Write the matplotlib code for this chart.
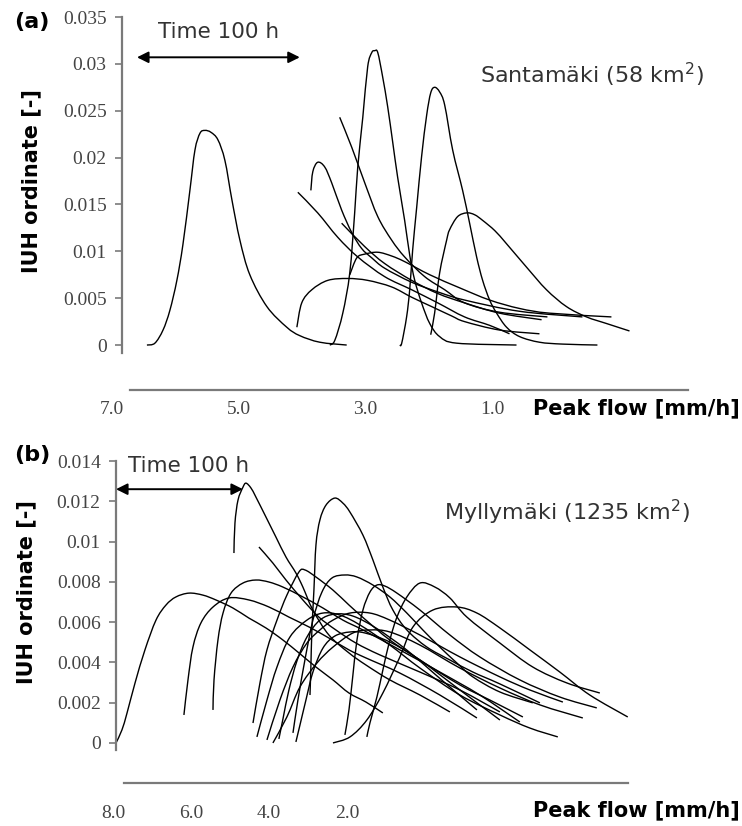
import matplotlib
matplotlib.use("Agg")
import matplotlib.pyplot as plt
from matplotlib.path import Path
from matplotlib.patches import PathPatch

# ---------------- Santamäki (58 km2): IUH curves, time [h] from the left axis ----------------
a1_hours = [15.3, 20.2, 25.2, 29.4, 33.7, 37.4, 41.7, 44.8, 47.9, 50.9, 54.6, 58.9, 63.2, 67.5, 72.4, 78.5, 89.0, 101.2, 109.2, 121.5, 138.0]
a1_iuh = [0, 0.0002, 0.0016, 0.0037, 0.0069, 0.0107, 0.0165, 0.0208, 0.0226, 0.0229, 0.0227, 0.0219, 0.0197, 0.0155, 0.0112, 0.0075, 0.0041, 0.0019, 0.0010, 0.0003, 0.0]

a2_hours = [127.6, 130.7, 135.6, 139.9, 142.9, 144.8, 147.9, 150.9, 153.4, 155.2, 157.1, 160.1, 163.2, 166.3, 169.3, 173.6, 176.7, 179.8, 184.0, 189.0, 195.1, 205.5, 242.3]
a2_iuh = [0, 0.0005, 0.0034, 0.0077, 0.0141, 0.0190, 0.0243, 0.0297, 0.0312, 0.0314, 0.0312, 0.0286, 0.0254, 0.0216, 0.0179, 0.0133, 0.0096, 0.0069, 0.0045, 0.0023, 0.0009, 0.0002, 0]

a3_hours = [170.6, 171.8, 174.8, 176.7, 178.5, 181.0, 184.0, 187.1, 189.6, 192.0, 195.1, 198.2, 203.1, 209.2, 213.5, 217.8, 221.5, 225.8, 230.1, 236.2, 244.2, 256.4, 270.6, 292.0]
a3_iuh = [0, 0.0002, 0.0030, 0.0059, 0.0101, 0.0147, 0.0201, 0.0245, 0.0269, 0.0275, 0.0270, 0.0256, 0.0208, 0.0165, 0.0130, 0.0094, 0.0069, 0.0048, 0.0034, 0.0019, 0.0009, 0.0003, 0.0001, 0]

a4_hours = [189.6, 192.0, 195.1, 199.4, 201.2, 206.1, 211.7, 216.6, 221.5, 229.0, 236.2, 248.5, 260.7, 273.0, 285.3, 297.5, 311.7]
a4_iuh = [0.0011, 0.0034, 0.0077, 0.0112, 0.0123, 0.0137, 0.0141, 0.0139, 0.0133, 0.0122, 0.0108, 0.0083, 0.0059, 0.0041, 0.0030, 0.0023, 0.0015]

a5_hours = [116.0, 117.2, 120.2, 124.5, 128.8, 134.9, 141.1, 147.2, 153.4, 161.3, 177.9, 195.1, 210.4, 244.2, 282.8]
a5_iuh = [0.0165, 0.0185, 0.0195, 0.0190, 0.0173, 0.0144, 0.0120, 0.0103, 0.0093, 0.0082, 0.0067, 0.0056, 0.0048, 0.0036, 0.0030]

a6_hours = [108.0, 120.2, 132.5, 144.8, 161.3, 177.9, 193.9, 210.4, 225.8, 238.0]
a6_iuh = [0.0163, 0.0141, 0.0115, 0.0094, 0.0073, 0.0059, 0.0045, 0.0030, 0.0021, 0.0012]

a7_hours = [133.7, 141.1, 149.1, 157.1, 165.6, 173.6, 185.9, 198.2, 210.4, 231.9, 261.3]
a7_iuh = [0.0243, 0.0211, 0.0173, 0.0137, 0.0112, 0.0094, 0.0073, 0.0059, 0.0045, 0.0035, 0.0030]

a8_hours = [134.9, 149.1, 161.3, 177.9, 193.9, 210.4, 231.9, 257.7]
a8_iuh = [0.0130, 0.0105, 0.0087, 0.0069, 0.0055, 0.0045, 0.0034, 0.0027]

a9_hours = [107.4, 110.4, 116.6, 126.4, 138.7, 150.9, 165.6, 177.9, 190.2, 202.5, 210.4, 231.9, 256.4]
a9_iuh = [0.0019, 0.0045, 0.0059, 0.0069, 0.0071, 0.0069, 0.0062, 0.0051, 0.0041, 0.0031, 0.0025, 0.0016, 0.0012]

a10_hours = [139.9, 144.2, 149.1, 157.1, 165.6, 173.6, 189.0, 207.4, 225.8, 244.2, 262.6, 300.6]
a10_iuh = [0.0075, 0.0093, 0.0097, 0.0099, 0.0095, 0.0089, 0.0075, 0.0061, 0.0048, 0.0039, 0.0034, 0.0030]

# ---------------- Myllymäki (1235 km2) ----------------
b1_hours = [0, 4.7, 8.7, 15.0, 22.8, 31.5, 39.4, 47.2, 57.5, 68.5, 78.7, 92.1, 104.7, 118.1, 131.5, 144.1, 157.5, 170.9, 183.5, 196.9, 210.2]
b1_iuh = [0, 0.00065, 0.00149, 0.00298, 0.00462, 0.00610, 0.00685, 0.00725, 0.00744, 0.00734, 0.00710, 0.00670, 0.00620, 0.00571, 0.00511, 0.00447, 0.00377, 0.00313, 0.00248, 0.00203, 0.00149]

b2_hours = [92.9, 93.7, 96.1, 100.0, 102.4, 106.3, 110.2, 118.1, 126.0, 133.9, 141.7, 147.2, 155.1, 167.7, 183.5, 196.9, 215.7, 239.4, 263.0]
b2_iuh = [0.00943, 0.01092, 0.01206, 0.01270, 0.01290, 0.01266, 0.01221, 0.01122, 0.01022, 0.00923, 0.00844, 0.00774, 0.00660, 0.00536, 0.00447, 0.00387, 0.00313, 0.00238, 0.00154]

b3_hours = [152.8, 153.5, 154.3, 155.9, 157.5, 160.6, 165.4, 172.4, 178.7, 184.3, 194.5, 202.4, 210.2, 218.1, 229.1, 244.9, 263.0, 281.1, 302.4, 333.9]
b3_iuh = [0.00238, 0.00377, 0.00561, 0.00759, 0.00983, 0.01107, 0.01181, 0.01216, 0.01191, 0.01146, 0.01032, 0.00908, 0.00774, 0.00660, 0.00561, 0.00476, 0.00412, 0.00352, 0.00293, 0.00199]

b4_hours = [53.5, 56.7, 60.6, 66.9, 76.4, 89.0, 104.7, 120.5, 136.2, 152.0, 167.7, 183.5, 196.9, 223.6, 255.1, 284.3]
b4_iuh = [0.00139, 0.00313, 0.00476, 0.00596, 0.00675, 0.00720, 0.00710, 0.00675, 0.00625, 0.00576, 0.00521, 0.00462, 0.00422, 0.00347, 0.00238, 0.00124]

b5_hours = [76.4, 77.2, 80.3, 84.3, 90.6, 100.0, 110.2, 120.5, 131.5, 147.2, 163.0, 178.7, 194.5, 223.6, 255.1, 286.6, 318.1]
b5_iuh = [0.00164, 0.00313, 0.00511, 0.00645, 0.00744, 0.00794, 0.00809, 0.00799, 0.00774, 0.00725, 0.00670, 0.00610, 0.00561, 0.00462, 0.00352, 0.00238, 0.00104]

b6_hours = [112.6, 123.6, 133.9, 147.2, 159.8, 173.2, 189.0, 207.9, 239.4, 270.9, 302.4]
b6_iuh = [0.00973, 0.00893, 0.00809, 0.00710, 0.00625, 0.00561, 0.00496, 0.00437, 0.00352, 0.00263, 0.00154]

b7_hours = [107.9, 113.4, 118.9, 126.8, 134.6, 144.1, 148.8, 157.5, 170.9, 183.5, 196.9, 215.7, 239.4, 270.9, 294.5, 320.5]
b7_iuh = [0.00099, 0.00298, 0.00462, 0.00610, 0.00734, 0.00849, 0.00859, 0.00824, 0.00759, 0.00685, 0.00610, 0.00511, 0.00412, 0.00288, 0.00213, 0.00129]

b8_hours = [111.0, 118.9, 126.8, 137.0, 150.4, 163.0, 176.4, 192.1, 215.7, 239.4, 270.9, 302.4, 326.0, 348.0]
b8_iuh = [0.00030, 0.00213, 0.00377, 0.00526, 0.00610, 0.00645, 0.00635, 0.00586, 0.00486, 0.00372, 0.00238, 0.00139, 0.00074, 0.00030]

b9_hours = [118.9, 129.1, 139.4, 150.4, 160.6, 170.9, 184.3, 200.0, 215.7, 239.4, 270.9, 302.4, 326.0, 352.0]
b9_iuh = [0.00015, 0.00213, 0.00377, 0.00496, 0.00561, 0.00610, 0.00645, 0.00645, 0.00610, 0.00536, 0.00427, 0.00328, 0.00263, 0.00203]

b10_hours = [123.6, 134.6, 144.9, 158.3, 170.9, 186.6, 200.0, 215.7, 239.4, 270.9, 302.4, 333.9, 367.7]
b10_iuh = [0, 0.00129, 0.00278, 0.00397, 0.00476, 0.00546, 0.00561, 0.00551, 0.00486, 0.00372, 0.00273, 0.00189, 0.00124]

b11_hours = [139.4, 143.3, 148.8, 155.1, 162.2, 170.1, 180.3, 189.8, 202.4, 215.7, 229.1, 241.7, 255.1, 268.5, 281.1, 302.4, 328.3]
b11_iuh = [0.00050, 0.00213, 0.00412, 0.00610, 0.00749, 0.00819, 0.00834, 0.00824, 0.00784, 0.00725, 0.00645, 0.00561, 0.00476, 0.00397, 0.00328, 0.00253, 0.00199]

b12_hours = [170.9, 184.3, 197.6, 210.2, 223.6, 233.9, 249.6, 268.5, 284.3, 302.4, 326.0, 349.6, 373.2, 403.1]
b12_iuh = [0, 0.00030, 0.00114, 0.00248, 0.00427, 0.00576, 0.00660, 0.00675, 0.00645, 0.00571, 0.00462, 0.00352, 0.00238, 0.00129]

b13_hours = [197.6, 200.0, 205.5, 210.2, 215.7, 221.3, 229.1, 239.4, 251.2, 263.0, 276.4, 302.4, 328.3, 355.1, 381.1]
b13_iuh = [0.00030, 0.00099, 0.00228, 0.00362, 0.00511, 0.00625, 0.00725, 0.00794, 0.00774, 0.00720, 0.00625, 0.00496, 0.00377, 0.00298, 0.00248]

b14_hours = [180.3, 183.5, 186.6, 189.8, 194.5, 200.0, 205.5, 211.8, 221.3, 239.4, 263.0, 286.6, 318.1, 349.6, 378.7]
b14_iuh = [0.00040, 0.00164, 0.00337, 0.00511, 0.00660, 0.00749, 0.00784, 0.00779, 0.00744, 0.00660, 0.00536, 0.00427, 0.00313, 0.00228, 0.00174]

b15_hours = [141.7, 144.9, 149.6, 155.1, 163.0, 172.4, 184.3, 196.1, 215.7, 239.4, 270.9, 302.4]
b15_iuh = [0.00005, 0.00089, 0.00213, 0.00352, 0.00471, 0.00531, 0.00551, 0.00546, 0.00501, 0.00412, 0.00263, 0.00114]

b16_hours = [128.3, 131.5, 136.2, 142.5, 150.4, 160.6, 172.4, 186.6, 204.7, 229.1, 258.3, 284.3]
b16_iuh = [0.00020, 0.00119, 0.00263, 0.00407, 0.00526, 0.00610, 0.00640, 0.00630, 0.00571, 0.00461, 0.00303, 0.00164]

# axis ticks and labels
a_yticks = [0, 0.005, 0.01, 0.015, 0.02, 0.025, 0.03, 0.035]
a_yticklabels = ["0", "0.005", "0.01", "0.015", "0.02", "0.025", "0.03", "0.035"]
b_yticks = [0, 0.002, 0.004, 0.006, 0.008, 0.01, 0.012, 0.014]
b_yticklabels = ["0", "0.002", "0.004", "0.006", "0.008", "0.01", "0.012", "0.014"]
a_flow_ticks = [7.0, 5.0, 3.0, 1.0]
b_flow_ticks = [8.0, 6.0, 4.0, 2.0]
time_bar_hours = 100

a_curves = [(a1_hours, a1_iuh), (a2_hours, a2_iuh), (a3_hours, a3_iuh), (a4_hours, a4_iuh),
            (a5_hours, a5_iuh), (a6_hours, a6_iuh), (a7_hours, a7_iuh), (a8_hours, a8_iuh),
            (a9_hours, a9_iuh), (a10_hours, a10_iuh)]
b_curves = [(b1_hours, b1_iuh), (b2_hours, b2_iuh), (b3_hours, b3_iuh), (b4_hours, b4_iuh),
            (b5_hours, b5_iuh), (b6_hours, b6_iuh), (b7_hours, b7_iuh), (b8_hours, b8_iuh),
            (b9_hours, b9_iuh), (b10_hours, b10_iuh), (b11_hours, b11_iuh), (b12_hours, b12_iuh),
            (b13_hours, b13_iuh), (b14_hours, b14_iuh), (b15_hours, b15_iuh), (b16_hours, b16_iuh)]

W, H = 742, 826
fig = plt.figure(figsize=(W / 100, H / 100), dpi=100)


def rect(left, top, right, bottom):
    return [left / W, 1 - bottom / H, (right - left) / W, (bottom - top) / H]


SERIF = "Liberation Serif"
SANS = "DejaVu Sans"
GREY = "#7a7a7a"
TICKTXT = "#444444"
TXT = "#333333"


def draw_curve(ax, t, u):
    """Draw a hydrograph through its points as a smooth cubic (Catmull-Rom) path."""
    pts = list(zip(t, u))
    n = len(pts)
    verts = [pts[0]]
    codes = [Path.MOVETO]
    for i in range(n - 1):
        p0 = pts[i - 1] if i > 0 else pts[i]
        p1, p2 = pts[i], pts[i + 1]
        p3 = pts[i + 2] if i + 2 < n else pts[i + 1]
        c1 = (p1[0] + (p2[0] - p0[0]) / 6, p1[1] + (p2[1] - p0[1]) / 6)
        c2 = (p2[0] - (p3[0] - p1[0]) / 6, p2[1] - (p3[1] - p1[1]) / 6)
        verts += [c1, c2, p2]
        codes += [Path.CURVE4] * 3
    ax.add_patch(PathPatch(Path(verts, codes), fill=False, edgecolor="black",
                           linewidth=1.0, joinstyle="round", capstyle="butt"))


def style_iuh_axes(ax, yticks, ylabels):
    for s in ("top", "right", "bottom"):
        ax.spines[s].set_visible(False)
    ax.spines["left"].set_color(GREY)
    ax.spines["left"].set_linewidth(1.6)
    ax.set_xticks([])
    ax.set_yticks(yticks)
    ax.set_yticklabels(ylabels, fontfamily=SERIF, fontsize=14, color=TICKTXT)
    ax.tick_params(axis="y", direction="out", length=5, width=1.2, color=GREY, pad=6)
    ax.patch.set_visible(False)


def flow_axis(rect_, xlim, bounds, ticks, pad):
    ax = fig.add_axes(rect_)
    ax.set_xlim(*xlim)
    ax.set_ylim(0, 1)
    for s in ("top", "right", "left"):
        ax.spines[s].set_visible(False)
    ax.spines["bottom"].set_color(GREY)
    ax.spines["bottom"].set_linewidth(1.6)
    ax.spines["bottom"].set_bounds(*bounds)
    ax.set_yticks([])
    ax.set_xticks(ticks)
    ax.set_xticklabels([f"{t:.1f}" for t in ticks], fontfamily=SERIF, fontsize=14, color=TICKTXT)
    ax.tick_params(axis="x", length=0, pad=pad)
    ax.patch.set_visible(False)
    return ax


# ---------- panel (a) ----------
ax_a = fig.add_axes(rect(122, 17, 700, 353))
ax_a.set_xlim(0, 355)
ax_a.set_ylim(-0.00085, 0.035)
style_iuh_axes(ax_a, a_yticks, a_yticklabels)
for t, u in a_curves:
    draw_curve(ax_a, t, u)

ax_a.annotate("", xy=(9.2 + time_bar_hours, 0.0307), xytext=(9.2, 0.0307),
              arrowprops=dict(arrowstyle="<|-|>", color="black", lw=1.4, mutation_scale=17,
                              shrinkA=0, shrinkB=0))
ax_a.text(59.2, 0.0334, f"Time {time_bar_hours} h", ha="center", va="center",
          fontfamily=SANS, fontsize=15.5, color=TXT)
ax_a.text(219.6, 0.0288, "Santamäki (58 km$^2$)", ha="left", va="center",
          fontfamily=SANS, fontsize=16, color=TXT)

flow_axis(rect(100, 388, 742, 390), (7.189, -2.948), (6.716, -2.095), a_flow_ticks, 8)

# ---------- panel (b) ----------
ax_b = fig.add_axes(rect(116, 461, 700, 750))
ax_b.set_xlim(0, 460)
ax_b.set_ylim(-0.00035, 0.014)
style_iuh_axes(ax_b, b_yticks, b_yticklabels)
for t, u in b_curves:
    draw_curve(ax_b, t, u)

ax_b.annotate("", xy=(time_bar_hours, 0.0126), xytext=(0, 0.0126),
              arrowprops=dict(arrowstyle="<|-|>", color="black", lw=1.4, mutation_scale=17,
                              shrinkA=0, shrinkB=0))
ax_b.text(9.4, 0.01375, f"Time {time_bar_hours} h", ha="left", va="center",
          fontfamily=SANS, fontsize=15.5, color=TXT)
ax_b.text(258.3, 0.01146, "Myllymäki (1235 km$^2$)", ha="left", va="center",
          fontfamily=SANS, fontsize=16, color=TXT)

flow_axis(rect(100, 781, 742, 783), (8.333, -8.128), (7.718, -5.205), b_flow_ticks, 16)

# ---------- labels ----------
fig.text(31 / W, 1 - 181 / H, "IUH ordinate [-]", rotation=90, ha="center", va="center",
         fontfamily=SANS, fontweight="bold", fontsize=15)
fig.text(26 / W, 1 - 592 / H, "IUH ordinate [-]", rotation=90, ha="center", va="center",
         fontfamily=SANS, fontweight="bold", fontsize=15)
for py in (408, 810):
    fig.text(740 / W, 1 - py / H, "Peak flow [mm/h]", ha="right", va="center",
             fontfamily=SANS, fontweight="bold", fontsize=15)
fig.text(14 / W, 1 - 22 / H, "(a)", ha="left", va="center", fontfamily=SANS, fontweight="bold", fontsize=16)
fig.text(14 / W, 1 - 455 / H, "(b)", ha="left", va="center", fontfamily=SANS, fontweight="bold", fontsize=16)

fig.savefig("out.png", dpi=100, facecolor="white")
